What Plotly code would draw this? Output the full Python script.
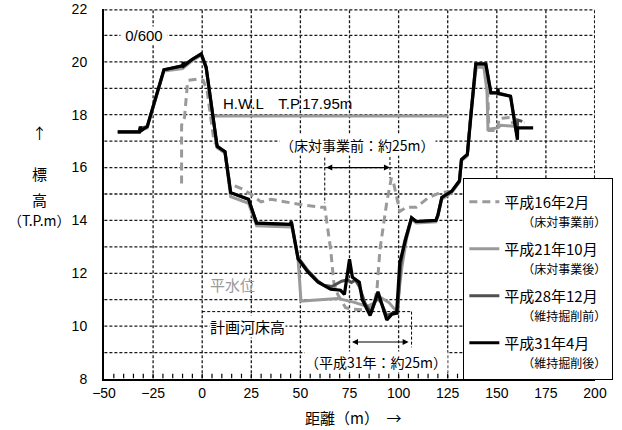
import plotly.graph_objects as go

# ---- cross-section survey data: distance (m) vs elevation (T.P. m) ----
h16_x = [-10.5, -10.5, -9, -7.5, -7, -2, 0.5, 2.5, 6, 8, 11.6, 14, 15, 20, 25, 30, 35, 50,
         60.4, 62.4, 65.4, 67, 69, 73, 76, 84, 87.5, 89, 90.5, 94, 96.3, 97.5, 100.6, 104,
         109, 115, 121, 127, 131, 132, 135, 137, 139.5, 144, 145.5, 146, 150.5, 151, 157,
         158, 164]
h16_y = [15.4, 17.6, 17.9, 19.2, 19.3, 19.35, 19.3, 18.9, 17.0, 16.8, 16.6, 15.4, 15.36,
         15.2, 14.98, 14.7, 14.8, 14.6, 14.5, 14.5, 12.9, 11.66, 11.2, 10.7, 10.65, 10.6,
         10.8, 11.4, 12.9, 14.7, 15.6, 15.4, 14.34, 14.5, 14.5, 14.85, 15.05, 15.1, 15.5,
         16.3, 16.5, 18.2, 19.8, 19.8, 18.6, 17.4, 17.4, 17.85, 17.9, 17.7, 17.7]

h21_x = [-43, -32, -31.5, -28, -19.5, -10, -5, -0.5, 2, 7.6, 11.6, 14.5, 23.6, 27.7, 44.7,
         45.4, 48.8, 50.3, 60, 69, 77.5, 84, 87, 90.5, 95, 99, 101.6, 104, 106.6, 109, 119,
         120, 122, 127, 131, 132, 135, 137, 139.5, 143.4, 145, 145.5, 150.4, 152, 160.5]
h21_y = [17.35, 17.35, 17.45, 17.5, 19.65, 19.75, 20.05, 20.25, 19.75, 16.75, 16.55, 14.9,
         14.65, 13.8, 13.75, 13.85, 12.55, 10.95, 11.0, 11.05, 10.9, 10.75, 10.85, 11.1,
         10.9, 10.55, 12.2, 13.3, 14.05, 13.9, 13.95, 14.15, 14.8, 15.05, 15.45, 16.25,
         16.45, 18.15, 19.8, 19.8, 18.9, 17.45, 17.5, 17.6, 17.55]

h28_x = [-43, -32, -31.5, -28, -19.5, -10, -5, -0.5, 2, 7.6, 11.6, 14.5, 23.6, 27.7, 44.7,
         45.4, 48.8, 53.8, 59, 62, 66, 71, 74, 76, 78, 80, 83, 86, 89, 91, 94, 97, 99.5, 101,
         103, 106.6, 109, 119, 120, 122, 127, 131, 132, 135, 137, 139.3, 144.4, 147, 150.4,
         157, 160.3, 160.6, 163]
h28_y = [17.35, 17.35, 17.5, 17.55, 19.7, 19.85, 20.1, 20.3, 19.8, 16.8, 16.6, 15.05, 14.8,
         13.9, 13.85, 13.95, 12.6, 12.1, 11.7, 11.55, 11.5, 11.7, 11.75, 11.65, 11.75, 11.5,
         10.85, 10.5, 11.1, 10.9, 10.4, 10.5, 10.5, 12.3, 13.2, 14.1, 13.96, 14.0, 14.2,
         14.87, 15.1, 15.5, 16.3, 16.5, 18.2, 19.92, 19.92, 18.83, 18.83, 18.7, 17.2, 17.8,
         17.75]

h31_x = [-43, -32, -31.5, -31, -28, -19.5, -10, -9.6, -9.3, -5, -0.5, 2, 7.6, 11.6, 14.5,
         23.6, 27.7, 44.7, 45.4, 48.8, 53.8, 59, 65.4, 70.4, 72.4, 75, 76.5, 80, 81.5, 85.5,
         89.5, 91.5, 94, 96.6, 99, 100.6, 102.5, 104, 106.6, 109, 119, 120, 122, 127, 131,
         132, 135, 137, 139.3, 144.4, 147, 150.4, 150.6, 150.8, 157, 160.5, 160.6, 168.5]
h31_y = [17.35, 17.35, 17.55, 17.4, 17.55, 19.7, 19.85, 20.0, 19.85, 20.1, 20.3, 19.8, 16.8,
         16.6, 15.05, 14.8, 13.9, 13.85, 13.95, 12.55, 12.05, 11.66, 11.4, 11.36, 11.2,
         12.53, 11.85, 11.66, 11.0, 10.4, 11.3, 10.83, 10.23, 10.45, 10.49, 12.4, 13.0,
         13.4, 14.1, 13.96, 14.0, 14.2, 14.87, 15.1, 15.5, 16.3, 16.5, 18.2, 19.92, 19.92,
         18.83, 18.83, 19.0, 18.8, 18.7, 17.05, 17.5, 17.5]

# ---- axis ticks / grid ----
X_RANGE = [-50, 200]
Y_RANGE = [8, 22]
x_ticks = list(range(-50, 201, 25))
x_minor_ticks = list(range(-45, 200, 5))
y_grid = list(range(9, 23))
y_ticks = list(range(8, 23, 2))
TICK_LEN = 0.2           # inside tick length on the distance axis, in elevation units

# ---- reference levels and channel-width markers ----
HWL = 17.95
HWL_X = [6, 125]
PLAN_BED = 10.55
PLAN_BED_X = [0, 106.6]
WIDTH_BEFORE = [62.4, 95.6]     # channel width before works
WIDTH_AFTER = [75.5, 106.6]     # channel width in H31

JP = "Noto Sans CJK JP"
LAT = "Liberation Sans, Noto Sans CJK JP"

# plot area in pixels (for placing free-standing labels)
W, H = 622, 430
ML, MR, MT, MB = 104, 22, 9, 51
PW, PH = W - ML - MR, H - MT - MB

fig = go.Figure()

# dashed grid: each grid line is its own short two-point trace
grid_style = dict(color="#1a1a1a", width=1.3, dash="3px,2px")
for xv in x_ticks[1:]:
    xx = min(xv, X_RANGE[1] - 0.2)
    fig.add_trace(go.Scatter(x=[xx, xx], y=[Y_RANGE[0] + 0.03, Y_RANGE[1] - 0.03],
                             mode="lines", showlegend=False, hoverinfo="skip",
                             line=grid_style, cliponaxis=False))
for yv in y_grid:
    yy = min(yv, Y_RANGE[1] - 0.03)
    fig.add_trace(go.Scatter(x=[X_RANGE[0] + 0.2, X_RANGE[1] - 0.2], y=[yy, yy],
                             mode="lines", showlegend=False, hoverinfo="skip",
                             line=grid_style, cliponaxis=False))
# small inside ticks along the distance axis
for xv in x_minor_ticks:
    fig.add_trace(go.Scatter(x=[xv, xv], y=[Y_RANGE[0] + 0.03, Y_RANGE[0] + TICK_LEN],
                             mode="lines", showlegend=False, hoverinfo="skip",
                             line=dict(color="black", width=1.2), cliponaxis=False))

# H.W.L line
fig.add_trace(go.Scatter(x=HWL_X, y=[HWL, HWL], mode="lines", showlegend=False,
                         hoverinfo="skip", line=dict(color="#9a9a9a", width=3)))

series = [
    ("平成16年2月", "（床対事業前）", h16_x, h16_y, "#9a9a9a", 3, "8px,5px"),
    ("平成21年10月", "（床対事業後）", h21_x, h21_y, "#9a9a9a", 3, "solid"),
    ("平成28年12月", "（維持掘削前）", h28_x, h28_y, "#505050", 3, "solid"),
    ("平成31年4月", "（維持掘削後）", h31_x, h31_y, "#000000", 3.2, "solid"),
]
for i, (name, sub, xs, ys, col, w, dash) in enumerate(series):
    fig.add_trace(go.Scatter(
        x=xs, y=ys, mode="lines",
        name=f"{name}<br><span style='font-size:12px'>　　{sub}</span>",
        legendgroup=f"g{i}",
        line=dict(color=col, width=w, dash=dash),
    ))

fig.update_layout(
    template="none",
    width=W, height=H,
    margin=dict(l=ML, r=MR, t=MT, b=MB),
    paper_bgcolor="white", plot_bgcolor="white",
    font=dict(family=LAT, size=14, color="black"),
    showlegend=True,
    legend=dict(
        x=(467 - ML) / PW, y=(MT + PH - 178) / PH, xanchor="left", yanchor="top",
        bgcolor="white", bordercolor="black", borderwidth=1,
        font=dict(family=JP, size=15),
        tracegroupgap=5, valign="top",
        title=dict(text=" ", font=dict(size=5)),
    ),
    xaxis=dict(
        range=X_RANGE, tickmode="array", tickvals=x_ticks, showgrid=False,
        automargin=False, zeroline=False, showline=True, linecolor="black", linewidth=2,
        ticks="", tickfont=dict(family=LAT, size=14),
    ),
    yaxis=dict(
        range=Y_RANGE, tickmode="array", tickvals=y_ticks, showgrid=False,
        automargin=False, zeroline=False, showline=True, linecolor="black", linewidth=2,
        ticks="outside", ticklen=12, tickcolor="rgba(0,0,0,0)",
        tickfont=dict(family=LAT, size=14),
    ),
)

dash_line = dict(color="black", width=1, dash="3px,2px")
# planned bed level
fig.add_shape(type="line", xref="x", yref="y", x0=PLAN_BED_X[0], x1=PLAN_BED_X[1],
              y0=PLAN_BED, y1=PLAN_BED, line=dash_line)
fig.add_shape(type="line", xref="x", yref="y", x0=PLAN_BED_X[1], x1=PLAN_BED_X[1],
              y0=PLAN_BED, y1=9.2, line=dash_line)
# width markers (before works)
fig.add_shape(type="line", xref="x", yref="y", x0=WIDTH_BEFORE[0], x1=WIDTH_BEFORE[0],
              y0=16.38, y1=14.65, line=dash_line)
fig.add_shape(type="line", xref="x", yref="y", x0=WIDTH_BEFORE[1], x1=WIDTH_BEFORE[1],
              y0=16.4, y1=15.6, line=dash_line)

arrow = dict(text="", showarrow=True, axref="x", ayref="y", xref="x", yref="y",
             arrowhead=2, arrowsize=1, arrowwidth=1.2, arrowcolor="black",
             arrowside="end+start", standoff=0, startstandoff=0)
fig.add_annotation(x=WIDTH_BEFORE[1], y=16.0, ax=WIDTH_BEFORE[0], ay=16.0, **arrow)
fig.add_annotation(x=WIDTH_AFTER[1] - 1.5, y=9.4, ax=WIDTH_AFTER[0], ay=9.4, **arrow)


def label(x, y, text, color="black", size=14, bg=None, xanchor="center", family=JP):
    fig.add_annotation(x=x, y=y, xref="x", yref="y", text=text, showarrow=False,
                       xanchor=xanchor, yanchor="middle",
                       font=dict(family=family, size=size, color=color),
                       bgcolor=bg, borderpad=0)


label(-29.7, 21, " 0/600 ", bg="white", family=LAT, size=15)
label(10, 18.42, f"H.W.L　T.P.{HWL}m", xanchor="left", family=LAT, size=15)
label(79, 16.87, "（床対事業前：約25m）", bg="white")
label(15.6, 11.58, "平水位", color="#9a9a9a", size=15)
label(23.1, 10.0, "計画河床高", bg="white", size=15)
label(88.5, 8.64, "（平成31年：約25m）", bg="white")


# axis titles placed by pixel position relative to the plot area
def plabel(px, py, text, size=15):
    fig.add_annotation(x=(px - ML) / PW, y=(MT + PH - py) / PH, xref="paper", yref="paper",
                       text=text, showarrow=False, xanchor="center", yanchor="middle",
                       font=dict(family=JP, size=size, color="black"))


plabel(39, 132, "↑", 15)
plabel(39, 173, "標", 15)
plabel(39, 199, "高", 15)
plabel(39, 220, "（T.P.m）", 14)
plabel(356, 417, "距離（m）　→", 15)

fig.write_html("out.html")
